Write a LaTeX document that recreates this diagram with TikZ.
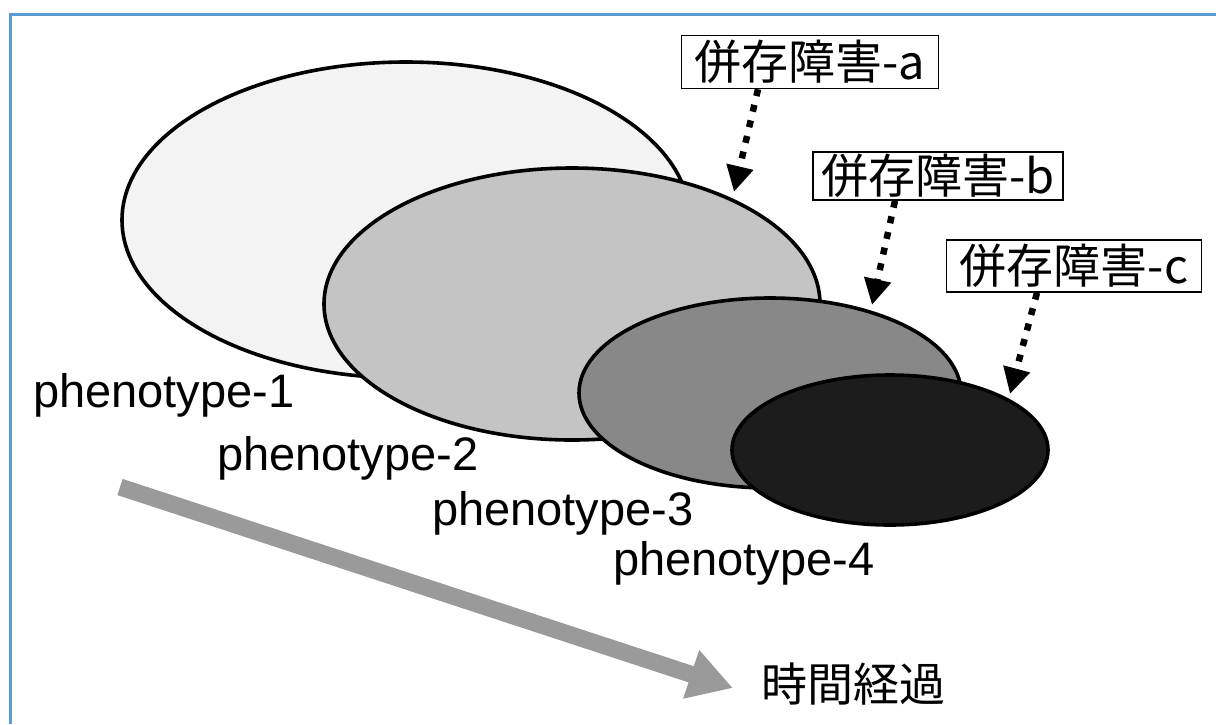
\documentclass[tikz,border=0pt]{standalone}
\usepackage{fontspec}
\setmainfont{Liberation Sans}
\newfontfamily\jpfont{Noto Sans CJK JP}
\usetikzlibrary{arrows.meta,shapes.geometric,calc}
\definecolor{frameblue}{HTML}{5B9BD5}
\definecolor{g1}{HTML}{F3F3F3}
\definecolor{g2}{HTML}{C4C4C4}
\definecolor{g3}{HTML}{888888}
\definecolor{g4}{HTML}{1C1C1C}
\definecolor{garrow}{HTML}{9A9A9A}
\tikzset{
  ell/.style={ellipse, draw=black, line width=3.6pt, inner sep=0pt},
  phlabel/.style={anchor=base west, inner sep=0pt, font=\fontsize{47}{56}\selectfont},
  cbox/.style={draw=black, line width=1.5pt, fill=white, inner sep=0pt, font=\jpfont\fontsize{47}{52}\selectfont},
  dotarrow/.style={line width=6.5pt, dash pattern=on 7pt off 9pt, -{Triangle[width=26pt,length=26pt]}},
  timearrow/.style={draw=garrow, line width=17pt, -{Triangle[width=48pt,length=44pt]}},
}
\begin{document}
\begin{tikzpicture}[x=1pt,y=-1pt]
\useasboundingbox (0,0) rectangle (1216,724);
% frame
\draw[frameblue, line width=3pt] (10,724) -- (10,14) -- (1216,14);
% ellipses
\node[ell, fill=g1, minimum width=568pt, minimum height=316pt] (e1) at (406,220) {};
\node[ell, fill=g2, minimum width=496pt, minimum height=272pt] (e2) at (572,304) {};
\node[ell, fill=g3, minimum width=382pt, minimum height=190pt] (e3) at (770,393) {};
\node[ell, fill=g4, minimum width=316pt, minimum height=150pt] (e4) at (890,450) {};
% phenotype labels
\node[phlabel] (p1) at (33,407) {phenotype-1};
\node[phlabel] (p2) at (217,470) {phenotype-2};
\node[phlabel] (p3) at (432,525) {phenotype-3};
\node[phlabel] (p4) at (613,575) {phenotype-4};
% comorbidity boxes
\node[cbox, minimum width=257pt, minimum height=53pt] (la) at (810,62) {併存障害-a};
\node[cbox, minimum width=250pt, minimum height=48pt] (lb) at (938,176) {併存障害-b};
\node[cbox, minimum width=255pt, minimum height=52pt] (lc) at (1074,266) {併存障害-c};
% arrow targets
\coordinate (ta) at (734,192);
\coordinate (tb) at (872,305);
\coordinate (tc) at (1010,394);
\draw[dotarrow] ([xshift=-52pt]la.south) -- (ta);
\draw[dotarrow] ([xshift=-43pt]lb.south) -- (tb);
\draw[dotarrow] ([xshift=-37pt]lc.south) -- (tc);
% time arrow
\coordinate (ts) at (120,487);
\coordinate (te) at (733,688);
\draw[timearrow] (ts) -- (te);
\node[inner sep=0pt, font=\jpfont\fontsize{46}{50}\selectfont] (tl) at (853,684) {時間経過};
\end{tikzpicture}
\end{document}
